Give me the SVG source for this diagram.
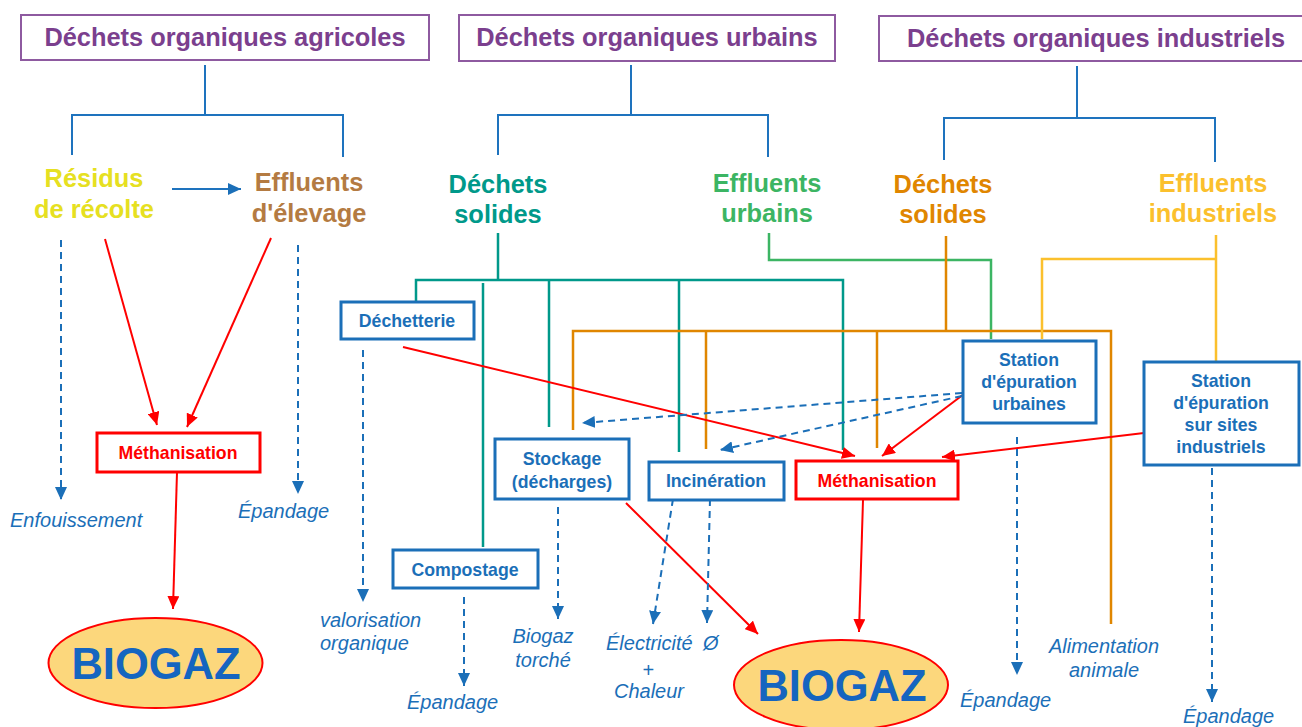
<svg xmlns="http://www.w3.org/2000/svg" width="1302" height="727" viewBox="0 0 1302 727">
<defs>
<style>
.title{font-family:"Liberation Sans",Arial,sans-serif;font-weight:bold;font-size:25.4px;fill:#7B3F8E;text-anchor:middle}
.tbox{fill:#fff;stroke:#8E5AA0;stroke-width:2}
.cat{font-family:"Liberation Sans",Arial,sans-serif;font-weight:bold;font-size:25.4px;text-anchor:middle}
.box{fill:#fff;stroke:#1B6FB8;stroke-width:3}
.rbox{fill:#fff;stroke:#FF0000;stroke-width:3}
.bl{font-family:"Liberation Sans",Arial,sans-serif;font-weight:bold;font-size:17.7px;fill:#1B6FB8;text-anchor:middle}
.rl{font-family:"Liberation Sans",Arial,sans-serif;font-weight:bold;font-size:17.7px;fill:#FF0000;text-anchor:middle}
.it{font-family:"Liberation Sans",Arial,sans-serif;font-style:italic;font-size:20px;fill:#1B6FB8}
.tree{stroke:#1E73BE;stroke-width:2;fill:none}
.teal{stroke:#00998A;stroke-width:2.5;fill:none}
.green{stroke:#3CB563;stroke-width:2.5;fill:none}
.orange{stroke:#E08600;stroke-width:2.5;fill:none}
.gold{stroke:#FBC02D;stroke-width:2.5;fill:none}
.red{stroke:#FF0000;stroke-width:2;fill:none;marker-end:url(#ar)}
.dash{stroke:#1B6FB8;stroke-width:2;fill:none;stroke-dasharray:7 5;marker-end:url(#ab)}
.bio{fill:#FCD77C;stroke:#FF0000;stroke-width:2}
.biot{font-family:"Liberation Sans",Arial,sans-serif;font-weight:bold;font-size:43.5px;fill:#1565C0;text-anchor:middle}
</style>
<marker id="ar" markerUnits="userSpaceOnUse" markerWidth="14" markerHeight="12" refX="13" refY="6" orient="auto">
<path d="M0,0 L13,6 L0,12 z" fill="#FF0000"/>
</marker>
<marker id="ab" markerUnits="userSpaceOnUse" markerWidth="14" markerHeight="12" refX="13" refY="6" orient="auto">
<path d="M0,0 L13,6 L0,12 z" fill="#1B6FB8"/>
</marker>
</defs>
<rect width="1302" height="727" fill="#fff"/>

<g id="connectors">
<path class="tree" d="M205,65 V115 M72,155 V115 H343 V157"/>
<path class="tree" d="M631,65 V115 M498,155 V115 H768 V157"/>
<path class="tree" d="M1077,66 V118 M944,160 V118 H1215 V162"/>
<line class="tree" x1="172" y1="189" x2="241" y2="189" marker-end="url(#ab)"/>
<path class="teal" d="M498,233 V280 M416,303 V280 H843 V450 M549,280 V427 M679,280 V452"/>
<path class="teal" d="M483,283 V547"/>
<path class="green" d="M769,233 V260 H991 V339"/>
<path class="orange" d="M946,236 V331 M573,430 V331 H1111 V624 M706,331 V449 M877,331 V448"/>
<path class="gold" d="M1216,235 V361 M1216,259 H1042 V339"/>
<line class="red" x1="105" y1="239" x2="157" y2="425"/>
<line class="red" x1="271" y1="238" x2="187" y2="427"/>
<line class="red" x1="177" y1="472" x2="173" y2="609"/>
<line class="red" x1="403" y1="347" x2="855" y2="456"/>
<line class="red" x1="964" y1="394" x2="882" y2="456"/>
<line class="red" x1="1144" y1="433" x2="942" y2="457"/>
<line class="red" x1="626" y1="503" x2="758" y2="634"/>
<line class="red" x1="863" y1="500" x2="859" y2="632"/>
<line class="dash" x1="61" y1="240" x2="61" y2="500"/>
<line class="dash" x1="298" y1="245" x2="298" y2="494"/>
<line class="dash" x1="363" y1="350" x2="363" y2="602"/>
<line class="dash" x1="464" y1="597" x2="464" y2="686"/>
<line class="dash" x1="558" y1="507" x2="558" y2="619"/>
<line class="dash" x1="673" y1="499" x2="653" y2="624"/>
<line class="dash" x1="710" y1="499" x2="707" y2="623"/>
<line class="dash" x1="962" y1="393" x2="582" y2="423"/>
<line class="dash" x1="962" y1="396" x2="720" y2="450"/>
<line class="dash" x1="1017" y1="437" x2="1017" y2="675"/>
<line class="dash" x1="1212" y1="468" x2="1212" y2="702"/>
</g>

<g id="title-agricoles">
<rect class="tbox" x="21" y="15" width="408" height="45"/>
<text class="title" x="225" y="46">Déchets organiques agricoles</text>
</g>
<g id="title-urbains">
<rect class="tbox" x="459" y="15" width="376" height="46"/>
<text class="title" x="647" y="46">Déchets organiques urbains</text>
</g>
<g id="title-industriels">
<rect class="tbox" x="879" y="16" width="432" height="45"/>
<text class="title" x="1096" y="47">Déchets organiques industriels</text>
</g>

<g id="residus">
<text class="cat" fill="#E6E021" x="94" y="187">Résidus</text>
<text class="cat" fill="#E6E021" x="94" y="218">de récolte</text>
</g>
<g id="effluents-elevage">
<text class="cat" fill="#B47B42" x="309" y="191">Effluents</text>
<text class="cat" fill="#B47B42" x="309" y="222">d'élevage</text>
</g>
<g id="dechets-solides-urbains">
<text class="cat" fill="#00998A" x="498" y="193">Déchets</text>
<text class="cat" fill="#00998A" x="498" y="223">solides</text>
</g>
<g id="effluents-urbains">
<text class="cat" fill="#3CB563" x="767" y="192">Effluents</text>
<text class="cat" fill="#3CB563" x="767" y="222">urbains</text>
</g>
<g id="dechets-solides-industriels">
<text class="cat" fill="#E08600" x="943" y="193">Déchets</text>
<text class="cat" fill="#E08600" x="943" y="223">solides</text>
</g>
<g id="effluents-industriels">
<text class="cat" fill="#FBC02D" x="1213" y="192">Effluents</text>
<text class="cat" fill="#FBC02D" x="1213" y="222">industriels</text>
</g>

<g id="methanisation-1">
<rect class="rbox" x="97" y="433" width="163" height="39"/>
<text class="rl" x="178" y="459">Méthanisation</text>
</g>
<g id="dechetterie">
<rect class="box" x="341" y="302" width="133" height="37"/>
<text class="bl" x="407" y="327">Déchetterie</text>
</g>
<g id="stockage">
<rect class="box" x="495" y="439" width="134" height="60"/>
<text class="bl" x="562" y="465">Stockage</text>
<text class="bl" x="562" y="488">(décharges)</text>
</g>
<g id="incineration">
<rect class="box" x="649" y="462" width="135" height="38"/>
<text class="bl" x="716" y="487">Incinération</text>
</g>
<g id="methanisation-2">
<rect class="rbox" x="796" y="461" width="162" height="38"/>
<text class="rl" x="877" y="487">Méthanisation</text>
</g>
<g id="compostage">
<rect class="box" x="393" y="550" width="145" height="38"/>
<text class="bl" x="465" y="576">Compostage</text>
</g>
<g id="station-urbaines">
<rect class="box" x="963" y="341" width="133" height="82"/>
<text class="bl" x="1029" y="366">Station</text>
<text class="bl" x="1029" y="388">d'épuration</text>
<text class="bl" x="1029" y="410">urbaines</text>
</g>
<g id="station-industriels">
<rect class="box" x="1144" y="362" width="155" height="103"/>
<text class="bl" x="1221" y="387">Station</text>
<text class="bl" x="1221" y="409">d'épuration</text>
<text class="bl" x="1221" y="431">sur sites</text>
<text class="bl" x="1221" y="453">industriels</text>
</g>

<g id="biogaz-1">
<ellipse class="bio" cx="155.5" cy="663" rx="107" ry="45"/>
<text class="biot" x="156" y="679">BIOGAZ</text>
</g>
<g id="biogaz-2">
<ellipse class="bio" cx="841" cy="685" rx="107" ry="45"/>
<text class="biot" x="842" y="701">BIOGAZ</text>
</g>

<g id="outputs">
<text class="it" x="10" y="527">Enfouissement</text>
<text class="it" x="238" y="518">Épandage</text>
<text class="it" x="320" y="627">valorisation</text>
<text class="it" x="320" y="650">organique</text>
<text class="it" x="407" y="709">Épandage</text>
<text class="it" x="543" y="643" text-anchor="middle">Biogaz</text>
<text class="it" x="543" y="667" text-anchor="middle">torché</text>
<text class="it" x="606" y="650">Électricité</text>
<text class="it" x="648" y="677" text-anchor="middle">+</text>
<text class="it" x="649" y="698" text-anchor="middle">Chaleur</text>
<text class="it" x="703" y="650">Ø</text>
<text class="it" x="960" y="707">Épandage</text>
<text class="it" x="1104" y="653" text-anchor="middle">Alimentation</text>
<text class="it" x="1104" y="677" text-anchor="middle">animale</text>
<text class="it" x="1183" y="723">Épandage</text>
</g>
</svg>
